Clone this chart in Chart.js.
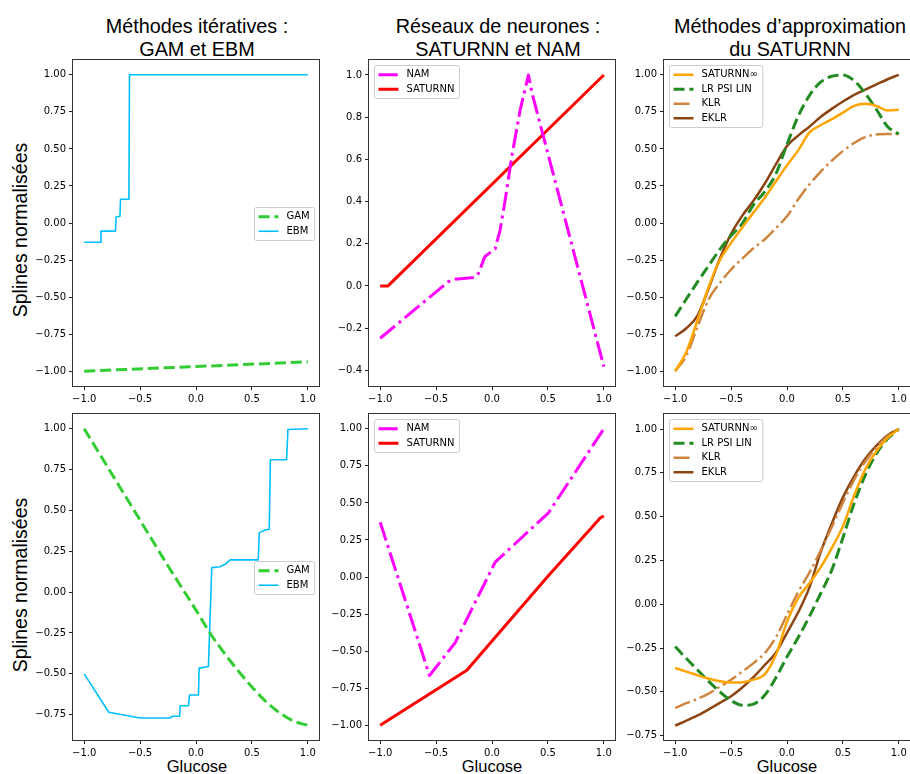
<!DOCTYPE html>
<html><head><meta charset="utf-8">
<script src="https://cdn.jsdelivr.net/npm/chart.js@4.4.0/dist/chart.umd.min.js"></script>
<style>
html,body{margin:0;padding:0;background:#fff;width:910px;height:774px;overflow:hidden;position:relative;}
canvas{position:absolute;}
.t{position:absolute;font-family:"Liberation Sans",Arial,sans-serif;font-size:19.8px;color:#000;text-align:center;line-height:23px;white-space:nowrap;width:320px;}
.yl{position:absolute;font-family:"Liberation Sans",Arial,sans-serif;font-size:19.5px;color:#000;white-space:nowrap;transform:translate(-50%,-50%) rotate(-90deg);}
.xl{position:absolute;font-family:"Liberation Sans",Arial,sans-serif;font-size:16.5px;color:#000;white-space:nowrap;transform:translate(-50%,-50%);}
</style></head><body>
<div class="t" style="left:37px;top:15px">Méthodes itératives :<br>GAM et EBM</div>
<div class="t" style="left:338px;top:15px">Réseaux de neurones :<br>SATURNN et NAM</div>
<div class="t" style="left:630px;top:15px">Méthodes d’approximation<br>du SATURNN</div>
<div class="yl" style="left:20px;top:230px">Splines normalisées</div>
<div class="yl" style="left:20px;top:585px">Splines normalisées</div>
<div class="xl" style="left:197px;top:766px">Glucose</div>
<div class="xl" style="left:492px;top:766px">Glucose</div>
<div class="xl" style="left:787px;top:766px">Glucose</div>
<script>
// ---------- tick values ----------
const xTickValues = [-1, -0.5, 0, 0.5, 1];
const yTicksQuarter = [-1, -0.75, -0.5, -0.25, 0, 0.25, 0.5, 0.75, 1];
const yTicksFifth = [-0.4, -0.2, 0, 0.2, 0.4, 0.6, 0.8, 1.0];
const yTicksBottom = [-0.75, -0.5, -0.25, 0, 0.25, 0.5, 0.75, 1];
const gridX = [-1, -0.9, -0.8, -0.7, -0.6, -0.5, -0.4, -0.3, -0.2, -0.1, 0, 0.1, 0.2, 0.3, 0.4, 0.5, 0.6, 0.7, 0.8, 0.9, 1];

// ---------- top row ----------
const gamTopX = [-1, 1];
const gamTopY = [-1.0, -0.937];
const ebmTopX = [-1, -0.855, -0.85, -0.72, -0.715, -0.68, -0.675, -0.6, -0.595, 1];
const ebmTopY = [-0.13, -0.13, -0.055, -0.055, 0.04, 0.045, 0.16, 0.16, 1.0, 1.0];
const namTopX = [-1, -0.39, -0.33, -0.15, -0.12, -0.064, 0.028, 0.073, 0.118, 0.177, 0.252, 0.326, 0.36, 1];
const namTopY = [-0.248, 0.02, 0.032, 0.041, 0.06, 0.139, 0.176, 0.266, 0.408, 0.614, 0.835, 1.0, 0.91, -0.383];
const satTopX = [-1, -0.93, 1];
const satTopY = [0, 0, 1];
const satInfTop = [-1.0, -0.87, -0.655, -0.43, -0.25, -0.134, -0.03, 0.07, 0.17, 0.28, 0.39, 0.49, 0.61, 0.66, 0.70, 0.745, 0.79, 0.805, 0.79, 0.76, 0.765];
const lrTop = [-0.63, -0.513, -0.397, -0.287, -0.178, -0.085, -0.004, 0.123, 0.21, 0.33, 0.53, 0.72, 0.86, 0.95, 0.99, 0.998, 0.96, 0.875, 0.766, 0.65, 0.60];
const klrTop = [-1.0, -0.895, -0.70, -0.514, -0.405, -0.314, -0.24, -0.17, -0.111, -0.035, 0.045, 0.16, 0.26, 0.345, 0.42, 0.485, 0.54, 0.58, 0.597, 0.60, 0.60];
const eklrTop = [-0.764, -0.71, -0.625, -0.44, -0.24, -0.073, 0.05, 0.15, 0.265, 0.395, 0.52, 0.59, 0.65, 0.715, 0.77, 0.82, 0.865, 0.90, 0.935, 0.97, 1.0];

// ---------- bottom row ----------
const gamBotX = [-1, -0.75, -0.5, -0.25, 0, 0.125, 0.25, 0.375, 0.5, 0.625, 0.75, 0.875, 1];
const gamBotY = [1.0, 0.72, 0.44, 0.16, -0.11, -0.25, -0.37, -0.48, -0.58, -0.67, -0.74, -0.79, -0.815];
const ebmBotX = [-1, -0.78, -0.5, -0.23, -0.215, -0.147, -0.141, -0.067, -0.058, 0.022, 0.028, 0.111, 0.141, 0.215, 0.26, 0.305, 0.557, 0.566, 0.617, 0.655, 0.665, 0.81, 0.822, 1];
const ebmBotY = [-0.5, -0.735, -0.77, -0.77, -0.76, -0.76, -0.695, -0.695, -0.63, -0.63, -0.465, -0.455, 0.15, 0.155, 0.17, 0.197, 0.197, 0.364, 0.38, 0.385, 0.81, 0.81, 0.995, 1.0];
const namBotX = [-1, -0.559, -0.33, 0.028, 0.505, 1];
const namBotY = [0.37, -0.665, -0.444, 0.10, 0.433, 1.0];
const satBotX = [-1, -0.225, 0.5, 0.97, 1];
const satBotY = [-1, -0.629, 0.005, 0.40, 0.41];
const satInfBot = [-0.364, -0.385, -0.405, -0.425, -0.44, -0.447, -0.445, -0.43, -0.40, -0.29, -0.10, 0.035, 0.12, 0.21, 0.32, 0.445, 0.62, 0.77, 0.875, 0.95, 1.0];
const lrBot = [-0.241, -0.31, -0.375, -0.44, -0.50, -0.55, -0.577, -0.57, -0.52, -0.42, -0.30, -0.19, -0.07, 0.06, 0.195, 0.38, 0.575, 0.737, 0.86, 0.945, 1.0];
const klrBot = [-0.592, -0.565, -0.54, -0.51, -0.47, -0.431, -0.385, -0.336, -0.28, -0.19, -0.06, 0.07, 0.18, 0.305, 0.44, 0.58, 0.71, 0.815, 0.895, 0.96, 1.0];
const eklrBot = [-0.693, -0.665, -0.635, -0.60, -0.563, -0.525, -0.475, -0.416, -0.348, -0.277, -0.163, -0.046, 0.095, 0.295, 0.46, 0.61, 0.73, 0.83, 0.905, 0.965, 1.0];

// ---------- helpers ----------
const pts = (xs, ys) => xs.map((x, i) => ({x: x, y: ys[i]}));
const dashed = w => [3.7 * w, 1.6 * w];
const dashdot = w => [6.4 * w, 1.6 * w, 1 * w, 1.6 * w];
function fmt(v, d) {
  let s = Math.abs(v) < 1e-9 ? (0).toFixed(d) : v.toFixed(d);
  return s.replace('-', '\u2212');
}
function ds(label, data, color, width, dash, smooth) {
  return {label: label, data: data, borderColor: color, backgroundColor: color, borderWidth: width,
    borderDash: dash || [], pointRadius: 0, fill: false, tension: 0,
    cubicInterpolationMode: smooth ? 'monotone' : 'default', borderJoinStyle: 'round', borderCapStyle: 'butt'};
}

const AXW = 60, AXH = 30, PADT = 10, PADR = 10, PW = 246, PH = 326;

const mplPlugin = {
  id: 'mpl',
  afterDatasetsDraw(chart, args, opts) {
    const ctx = chart.ctx, a = chart.chartArea;
    ctx.save();
    ctx.strokeStyle = '#333';
    ctx.lineWidth = 1;
    ctx.setLineDash([]);
    ctx.strokeRect(Math.round(a.left) - 0.5, Math.round(a.top) - 0.5, Math.round(a.right - a.left) + 1, Math.round(a.bottom - a.top) + 1);
    // legend
    const items = chart.data.datasets;
    ctx.font = '10px "DejaVu Sans"';
    const pad = 4, hl = 20, tp = 8, rowH = 9.5, sp = 5;
    const tw = Math.max(...items.map(d => ctx.measureText(d.label).width));
    const w = pad + hl + tp + tw + pad + 1, h = 2 * pad + items.length * rowH + (items.length - 1) * sp + 1;
    let x0, y0;
    if (opts.loc === 'upper left') { x0 = a.left + 5; y0 = a.top + 5; }
    else { x0 = a.right - 5 - w; y0 = (a.top + a.bottom) / 2 - h / 2; }
    x0 = Math.round(x0) + 0.5; y0 = Math.round(y0) + 0.5;
    ctx.beginPath();
    ctx.roundRect(x0, y0, w, h, 2);
    ctx.fillStyle = 'rgba(255,255,255,0.8)';
    ctx.fill();
    ctx.strokeStyle = '#cccccc';
    ctx.stroke();
    items.forEach((d, i) => {
      const cy = y0 + pad + rowH / 2 + i * (rowH + sp) + 0.5;
      ctx.beginPath();
      ctx.setLineDash(d.borderDash || []);
      ctx.lineDashOffset = 0;
      ctx.lineCap = 'butt';
      ctx.strokeStyle = d.borderColor;
      ctx.lineWidth = d.borderWidth;
      ctx.moveTo(x0 + pad, cy);
      ctx.lineTo(x0 + pad + hl, cy);
      ctx.stroke();
      ctx.setLineDash([]);
      ctx.fillStyle = '#000';
      ctx.textBaseline = 'middle';
      ctx.textAlign = 'left';
      ctx.fillText(d.label, x0 + pad + hl + tp, cy);
    });
    ctx.restore();
  }
};

function panel(left, top, yMin, yMax, yTicks, yDec, datasets, loc) {
  const cv = document.createElement('canvas');
  const W = AXW + PW + PADR, H = PADT + PH + AXH;
  cv.width = W; cv.height = H;
  cv.style.left = (left - AXW) + 'px';
  cv.style.top = (top - PADT) + 'px';
  cv.style.width = W + 'px'; cv.style.height = H + 'px';
  document.body.appendChild(cv);
  const tickFont = {family: 'DejaVu Sans', size: 10};
  const grid = {display: true, drawOnChartArea: false, drawTicks: true, tickLength: 4, tickColor: '#222', tickWidth: 1};
  new Chart(cv, {
    type: 'line',
    data: {datasets: datasets},
    options: {
      responsive: false, animation: false, devicePixelRatio: 1,
      layout: {padding: {top: PADT, right: PADR, left: 0, bottom: 0}},
      plugins: {legend: {display: false}, tooltip: {enabled: false}, mpl: {loc: loc}},
      scales: {
        x: {type: 'linear', min: -1.1, max: 1.1, bounds: 'data',
          afterFit: s => { s.height = AXH; },
          afterBuildTicks: s => { s.ticks = xTickValues.map(v => ({value: v})); },
          ticks: {font: tickFont, color: '#000', padding: 3, maxRotation: 0, autoSkip: false, callback: v => fmt(v, 1)},
          grid: grid, border: {display: false}},
        y: {type: 'linear', min: yMin, max: yMax, bounds: 'data',
          afterFit: s => { s.width = AXW; },
          afterBuildTicks: s => { s.ticks = yTicks.map(v => ({value: v})); },
          ticks: {font: tickFont, color: '#000', padding: 3, autoSkip: false, callback: v => fmt(v, yDec)},
          grid: grid, border: {display: false}}
      }
    },
    plugins: [mplPlugin]
  });
}

// top row
panel(73, 60, -1.1, 1.1, yTicksQuarter, 2, [
  ds('GAM', pts(gamTopX, gamTopY), '#32CD32', 3, dashed(3)),
  ds('EBM', pts(ebmTopX, ebmTopY), '#00BFFF', 1.6)
], 'center right');
panel(369, 60, -0.4745, 1.071, yTicksFifth, 1, [
  ds('NAM', pts(namTopX, namTopY), '#FF00FF', 3, dashdot(3)),
  ds('SATURNN', pts(satTopX, satTopY), '#FF0000', 3)
], 'upper left');
panel(664, 60, -1.1, 1.1, yTicksQuarter, 2, [
  ds('SATURNN\u221e', pts(gridX, satInfTop), '#FFA500', 2.5, null, true),
  ds('LR PSI LIN', pts(gridX, lrTop), '#228B22', 3, dashed(3), true),
  ds('KLR', pts(gridX, klrTop), '#CD853F', 2.5, dashdot(2.5), true),
  ds('EKLR', pts(gridX, eklrTop), '#8B4513', 2.5, null, true)
], 'upper left');
// bottom row
panel(73, 414, -0.905, 1.09, yTicksBottom, 2, [
  ds('GAM', pts(gamBotX, gamBotY), '#32CD32', 3, dashed(3), true),
  ds('EBM', pts(ebmBotX, ebmBotY), '#00BFFF', 1.6)
], 'center right');
panel(369, 414, -1.1, 1.1, yTicksQuarter, 2, [
  ds('NAM', pts(namBotX, namBotY), '#FF00FF', 3, dashdot(3)),
  ds('SATURNN', pts(satBotX, satBotY), '#FF0000', 3)
], 'upper left');
panel(664, 414, -0.775, 1.086, yTicksBottom, 2, [
  ds('SATURNN\u221e', pts(gridX, satInfBot), '#FFA500', 2.5, null, true),
  ds('LR PSI LIN', pts(gridX, lrBot), '#228B22', 3, dashed(3), true),
  ds('KLR', pts(gridX, klrBot), '#CD853F', 2.5, dashdot(2.5), true),
  ds('EKLR', pts(gridX, eklrBot), '#8B4513', 2.5, null, true)
], 'upper left');
</script>
</body></html>
